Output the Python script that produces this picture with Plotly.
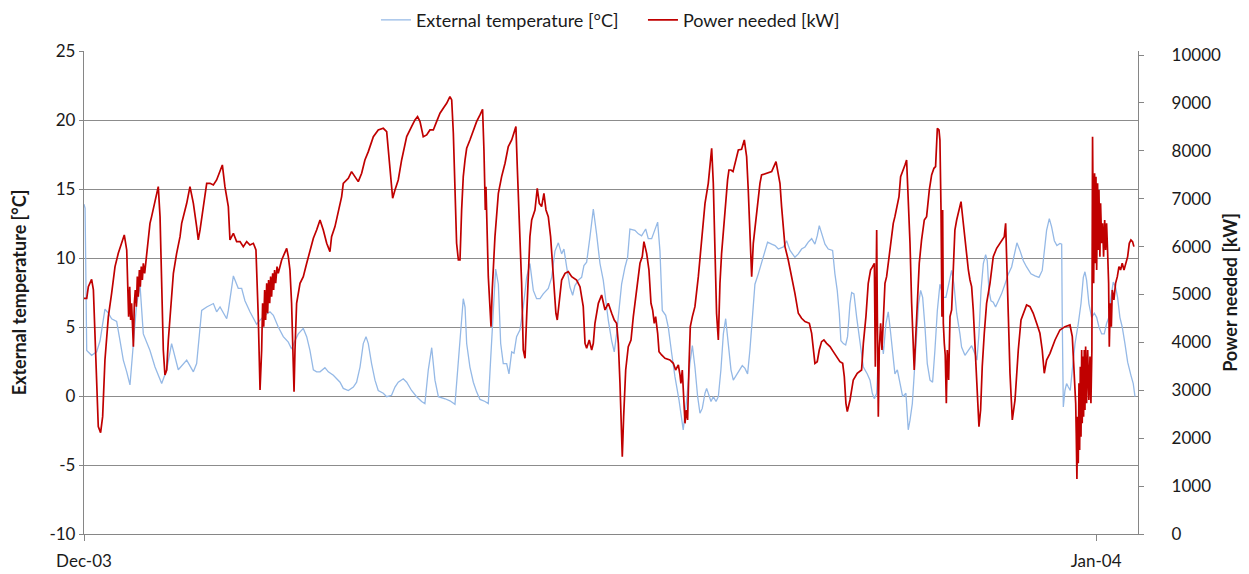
import pandas as pd
import plotly.graph_objects as go

START = pd.Timestamp("2003-12-01")

# External temperature [°C] : hours since 2003-12-01 00:00 and values
temp_hours = [
    0, 0.8, 2.0, 5.6, 9.3, 11.8, 15.4, 17.9, 20.3, 24.0, 26.5, 28.9, 31.4, 33.8, 36.3, 38.7, 41.2, 43.6,
    48.5, 52.2, 57.1, 60.8, 64.4, 69.3, 75.5, 80.4, 82.8, 86.5, 90.2, 95.1, 97.5, 100.0, 104.9, 106.1,
    109.8, 113.4, 115.9, 118.3, 122.0, 126.9, 129.4, 133.0, 136.7, 139.2, 142.8, 146.5, 150.2, 152.6,
    155.1, 157.5, 161.2, 163.7, 166.1, 168.6, 171.0, 173.5, 177.1, 179.6, 183.3, 188.2, 190.6, 194.3,
    198.0, 200.4, 202.9, 205.3, 207.3, 209.0, 211.4, 213.9, 216.3, 220.0, 222.5, 226.1, 228.6, 231.0,
    234.7, 237.2, 240.8, 244.5, 248.2, 250.6, 253.1, 255.6, 258.0, 260.5, 265.4, 269.0, 272.7, 275.2,
    277.6, 278.8, 280.1, 281.3, 283.7, 286.2, 288.6, 291.1, 294.8, 297.2, 298.9, 300.9, 302.6, 304.6,
    306.3, 308.2, 310.7, 312.4, 314.4, 316.1, 318.0, 320.5, 322.9, 325.4, 327.8, 330.3, 332.7, 335.2,
    337.6, 341.3, 343.8, 346.2, 348.7, 351.1, 352.8, 354.8, 357.2, 359.2, 360.9, 363.4, 365.8, 367.5,
    369.5, 371.9, 374.4, 376.8, 379.3, 381.7, 384.2, 385.4, 387.9, 389.8, 391.5, 393.3, 395.2, 397.7,
    399.6, 401.3, 405.0, 407.5, 409.9, 412.9, 414.8, 417.3, 419.7, 421.7, 423.4, 425.1, 427.6, 429.5,
    432.0, 434.4, 437.4, 440.5, 443.0, 445.4, 447.2, 449.1, 451.1, 452.8, 454.5, 456.5, 457.7, 459.4,
    460.9, 462.6, 464.6, 466.3, 468.2, 470.0, 471.7, 473.6, 475.6, 477.3, 479.7, 482.2, 483.9, 485.9,
    487.8, 489.5, 491.3, 493.2, 495.7, 498.1, 500.6, 502.5, 505.5, 508.0, 510.4, 514.1, 516.5, 519.0,
    522.6, 525.1, 527.5, 530.0, 532.4, 534.9, 537.3, 539.0, 540.5, 542.2, 544.7, 547.1, 550.3, 552.0,
    553.7, 555.2, 556.4, 558.2, 559.9, 561.3, 563.1, 564.3, 566.0, 568.0, 570.4, 572.9, 575.8, 577.8,
    579.5, 581.0, 582.7, 584.1, 585.8, 587.6, 589.5, 591.2, 592.5, 594.4, 596.1, 597.9, 599.8, 601.8,
    604.2, 605.9, 607.2, 608.9, 610.3, 612.1, 613.5, 615.0, 616.5, 618.2, 619.9, 621.9, 623.8, 625.5,
    627.3, 629.2, 631.7, 633.6, 635.6, 637.8, 639.5, 641.5, 643.9, 645.1, 647.6, 650.1, 652.5, 655.0,
    656.4, 657.9, 659.4, 661.1, 662.8, 664.0, 665.2, 666.7, 668.4, 670.1, 672.1, 674.5, 677.0, 679.5,
    681.9, 684.4, 685.8, 688.0, 690.5, 692.9, 696.1, 699.1, 702.0, 704.4, 705.9, 707.6, 709.6, 711.3,
    713.3, 715.2, 717.4, 718.7, 719.1, 719.9, 721.1, 722.3, 723.6, 725.0, 726.5, 728.5, 730.9, 732.9,
    734.6, 735.8, 737.0, 738.7, 740.7, 742.7, 744.4, 746.1, 748.1, 750.0, 751.7, 753.4, 754.9, 756.6,
    758.3, 759.8, 761.5, 763.2, 765.2, 767.2, 769.6, 771.3, 772.6,
]
temp_c = [
    13.9, 13.6, 3.3, 2.95, 3.2, 4.0, 6.3, 6.0, 5.6, 5.4, 4.0, 2.6, 1.75, 0.8, 3.8, 6.7, 8.0, 4.5,
    3.3, 2.1, 0.9, 1.9, 3.8, 1.9, 2.6, 1.75, 2.35, 6.2, 6.45, 6.7, 6.1, 6.45, 5.6, 6.2,
    8.7, 7.8, 7.8, 6.9, 6.1, 5.2, 5.5, 5.85, 6.1, 5.85, 5.0, 4.3, 3.9, 3.4,
    4.0, 4.5, 4.9, 4.3, 3.3, 1.9, 1.75, 1.75, 2.05, 1.75, 1.5, 1.0, 0.55, 0.4,
    0.65, 1.0, 2.1, 3.8, 4.3, 3.8, 2.35, 1.15, 0.4, 0.2, -0.05, 0.05, 0.65, 1.0,
    1.25, 1.0, 0.4, -0.05, -0.4, -0.55, 1.9, 3.5, 1.15, -0.05, -0.2, -0.35, -0.6, 2.8,
    6.0, 7.05, 6.45, 3.8, 2.1, 1.0, 0.3, -0.25, -0.4, -0.55, 2.6, 6.2, 9.2, 8.1,
    3.8, 2.35, 2.35, 1.6, 3.2, 3.1, 4.3, 4.8, 6.45, 8.6, 9.6, 7.65, 7.05, 7.05,
    7.4, 7.8, 8.6, 10.5, 11.1, 10.3, 10.65, 9.35, 7.9, 7.3, 8.0, 8.4, 8.6, 9.45,
    9.7, 11.5, 13.55, 11.75, 9.6, 8.4, 6.45, 5.5, 4.0, 3.2, 4.5, 6.2, 8.1, 9.35,
    10.05, 12.1, 12.0, 11.75, 11.6, 12.1, 11.4, 11.4, 12.0, 12.6, 10.5, 6.2, 5.85, 5.0,
    3.1, 1.4, -0.3, -2.45, -0.3, 2.35, 3.65, 2.1, -0.05, -1.25, -0.9, 0.2, 0.55, 0.05,
    -0.4, -0.05, -0.4, -0.05, 1.9, 4.5, 5.6, 3.8, 1.9, 1.15, 1.5, 1.9, 2.2, 2.0,
    1.6, 3.3, 6.0, 8.1, 8.85, 9.6, 10.5, 11.15, 11.0, 10.9, 10.65, 10.8, 11.25, 10.55,
    10.05, 10.3, 10.65, 10.8, 11.15, 11.4, 11.0, 11.6, 12.35, 11.85, 11.0, 10.65, 10.55, 8.85,
    7.65, 6.0, 4.0, 3.8, 3.7, 4.3, 6.7, 7.5, 7.4, 5.7, 3.8, 2.1, 1.6, 1.15,
    0.2, -0.2, 0.2, 3.3, 4.75, 3.05, 5.25, 6.1, 5.0, 3.3, 1.6, 1.9, 0.9, -0.05,
    0.2, -2.45, -1.75, -0.55, 1.6, 4.5, 6.7, 7.65, 7.15, 5.0, 2.35, 1.15, 1.0, 3.3,
    6.2, 8.1, 7.15, 7.15, 8.1, 9.1, 8.1, 6.0, 4.5, 3.55, 2.95, 3.3, 3.65, 3.05,
    2.6, 4.5, 7.65, 9.6, 10.25, 9.8, 7.65, 6.9, 6.8, 6.45, 6.9, 7.4, 8.1, 8.85,
    9.35, 10.55, 11.1, 10.55, 9.8, 9.35, 8.85, 8.7, 8.6, 9.1, 10.55, 12.0, 12.85, 12.25,
    11.25, 10.9, 11.05, 11.0, 5.7, -0.8, 0.4, 0.9, 0.65, 0.4, 1.9, 3.8, 5.25, 6.7,
    8.6, 9.0, 8.4, 6.7, 5.7, 6.0, 5.7, 5.0, 4.5, 4.5, 5.25, 5.7, 7.15, 8.25,
    7.9, 7.15, 5.7, 5.0, 3.8, 2.45, 1.5, 0.9, -0.05,
]

# Power needed [kW] : hours since 2003-12-01 00:00 and values
power_hours = [
    0, 2.0, 3.2, 5.6, 6.9, 8.1, 9.3, 10.5, 12.2, 13.7, 15.4, 17.9, 20.3, 22.8, 25.2, 27.7, 29.6, 31.4,
    32.1, 32.8, 33.6, 34.3, 35.0, 35.8, 36.3, 37.0, 37.7, 38.5, 39.2, 39.9, 40.7, 41.4, 42.1, 42.9,
    43.6, 44.6, 45.6, 47.3, 48.5, 49.7, 52.2, 54.6, 55.9, 57.1, 58.3, 59.5, 60.8, 62.0, 63.2, 65.7,
    68.1, 70.6, 71.8, 73.0, 75.5, 77.9, 80.4, 82.8, 84.0, 85.3, 87.7, 90.2, 92.6, 95.1, 97.5, 100.0,
    101.7, 103.6, 106.1, 107.3, 109.8, 112.2, 114.7, 117.1, 119.6, 122.0, 124.5, 126.4, 128.1, 129.4,
    130.6, 131.3, 132.1, 132.8, 133.5, 134.3, 135.0, 135.7, 136.5, 137.2, 137.9, 138.7, 139.4, 140.1,
    140.9, 141.9, 142.8, 145.3, 147.7, 149.0, 150.2, 151.4, 152.6, 153.4, 154.4, 155.1, 156.3, 158.8,
    161.2, 163.7, 166.1, 168.6, 171.0, 173.5, 175.9, 178.4, 180.8, 182.0, 184.5, 186.9, 189.4, 190.6,
    194.3, 196.7, 199.2, 201.6, 204.1, 206.5, 209.0, 212.7, 216.3, 220.0, 222.5, 223.7, 224.9, 226.1,
    226.9, 228.6, 231.0, 233.5, 237.2, 240.8, 243.3, 245.2, 247.0, 249.4, 251.9, 254.3, 256.8, 259.2,
    261.7, 264.1, 266.6, 269.0, 270.3, 271.5, 272.7, 273.9, 275.2, 276.4, 277.6, 278.8, 280.1, 281.3,
    283.7, 286.2, 288.6, 291.1, 293.0, 294.0, 294.5, 295.0, 295.5, 296.0, 296.5, 297.2, 298.4, 299.2,
    300.1, 302.1, 304.6, 307.0, 309.5, 311.9, 314.4, 317.5, 318.5, 320.0, 321.7, 322.9, 324.2, 325.4,
    326.6, 327.8, 329.1, 331.5, 333.2, 334.7, 336.4, 338.1, 339.6, 341.3, 343.0, 344.2, 345.5, 346.9,
    347.9, 349.1, 351.1, 353.6, 356.0, 358.5, 362.1, 364.6, 367.0, 368.3, 369.5, 371.4, 373.2, 374.4,
    375.6, 378.1, 380.5, 383.0, 385.4, 387.9, 389.8, 391.5, 392.8, 394.0, 395.2, 395.7, 396.7, 398.2,
    400.1, 402.1, 403.8, 406.2, 408.7, 410.4, 411.6, 413.6, 415.3, 416.8, 418.0, 419.2, 420.2, 421.7,
    422.7, 424.6, 427.1, 430.7, 433.2, 434.9, 436.9, 438.1, 438.8, 439.8, 441.0, 441.8, 442.7, 443.7,
    444.7, 445.7, 447.2, 449.1, 451.6, 454.0, 456.5, 458.9, 461.4, 462.6, 463.8, 465.0, 466.3, 467.5,
    468.7, 471.2, 473.1, 474.1, 475.6, 477.1, 479.0, 481.0, 483.4, 485.4, 486.4, 487.1, 488.3, 489.5,
    490.8, 492.0, 494.4, 496.9, 498.1, 500.6, 503.0, 505.5, 508.7, 510.4, 511.6, 512.8, 514.1, 515.3,
    517.7, 520.2, 522.6, 525.1, 527.5, 530.0, 533.2, 534.9, 536.1, 537.3, 539.0, 540.5, 542.2, 543.9,
    545.9, 548.4, 550.8, 553.3, 555.7, 557.7, 558.9, 560.1, 561.1, 563.1, 565.5, 568.4, 571.6, 572.9,
    574.8, 576.5, 578.2, 579.7, 581.0, 581.7, 582.2, 582.7, 583.2, 583.9, 584.6, 585.6, 586.6, 587.6,
    588.8, 590.0, 591.2, 592.5, 593.7, 594.9, 596.1, 597.8, 599.1, 600.3, 602.3, 603.5, 604.7, 605.9,
    607.2, 608.4, 609.6, 610.3, 611.3, 612.6, 614.0, 615.7, 617.7, 619.4, 621.4, 623.1, 624.8, 626.0,
    627.3, 628.5, 629.2, 630.0, 630.7, 631.2, 631.7, 632.4, 633.1, 633.9, 634.6, 635.6, 636.6, 637.8,
    639.0, 640.2, 641.5, 643.0, 644.7, 645.6, 646.6, 647.6, 648.8, 650.1, 651.3, 652.5, 653.7, 655.0,
    656.2, 657.9, 659.1, 660.3, 661.8, 663.5, 666.0, 668.4, 670.9, 673.3, 676.5, 677.5, 678.2, 679.5,
    680.7, 682.4, 684.4, 686.8, 688.8, 690.5, 692.9, 695.4, 697.8, 700.3, 702.7, 704.4, 705.9, 707.6,
    710.1, 713.8, 717.4, 721.1, 724.8, 726.5, 728.0, 729.0, 729.4, 729.9, 730.4, 730.9, 731.4, 731.9,
    732.4, 732.9, 733.4, 733.8, 734.3, 734.8, 735.3, 735.8, 736.3, 737.0, 737.8, 738.7, 739.5, 740.2,
    740.9, 741.4, 742.2, 742.9, 743.4, 743.9, 744.4, 745.1, 745.6, 746.1, 746.8, 747.3, 748.1, 748.8,
    749.5, 750.3, 751.0, 751.7, 752.5, 753.2, 753.7, 754.4, 755.2, 755.9, 757.1, 758.3, 759.6, 760.8,
    762.0, 763.2, 764.5, 765.7, 767.2, 768.4, 769.6, 770.8, 771.8,
]
power_kw = [
    4921, 4921, 5164, 5317, 5095, 4190, 3076, 2241, 2116, 2450, 3633, 4538, 5025, 5582, 5860, 6069, 6243, 5930,
    5234, 4538, 5164, 4468, 4816, 4329, 3912, 4816, 5095, 4747, 5373, 4956, 5512, 5164, 5582, 5303,
    5652, 5443, 5721, 6069, 6487, 6626, 6974, 7252, 6626, 5234, 3842, 3320, 3424, 4051, 4538, 5443,
    5860, 6208, 6487, 6626, 6904, 7252, 6904, 6417, 6139, 6347, 6835, 7322, 7322, 7287, 7392, 7600,
    7705, 7252, 6835, 6139, 6278, 6104, 6104, 6000, 6104, 6034, 6069, 5930, 4538, 3007,
    3842, 4816, 4329, 5095, 4468, 5234, 4608, 5303, 4816, 5373, 4956, 5443, 5095, 5512,
    5234, 5582, 5443, 5721, 5860, 5965, 5791, 5512, 4816, 3842, 2972, 3842, 4816, 5234,
    5373, 5652, 5930, 6174, 6347, 6556, 6347, 6069, 5895, 6208, 6417, 6696, 7044, 7322,
    7426, 7566, 7461, 7357, 7531, 7809, 7983, 8296, 8436, 8470, 8401, 8018, 7600, 7183,
    7009, 7183, 7392, 7809, 8296, 8505, 8644, 8714, 8610, 8296, 8331, 8436, 8436, 8610,
    8784, 8888, 8992, 9132, 9062, 8366, 6974, 6069, 5721, 5721, 6765, 7461, 7809, 8053,
    8227, 8436, 8610, 8749, 8867, 8018, 7183, 6765, 7252, 6626, 5930, 5373, 4747, 4329,
    5095, 6208, 7113, 7461, 7740, 8088, 8227, 8505, 7670, 6626, 5234, 3842, 3668, 4538,
    5582, 6208, 6556, 6765, 7218, 6904, 6835, 7113, 6765, 6626, 6208, 5652, 5095, 4608,
    4468, 4816, 5303, 5443, 5478, 5373, 5303, 5164, 4747, 3981, 3877, 4051, 3842, 3981,
    4399, 4816, 4990, 4677, 4816, 4608, 4468, 4399, 3981, 3146, 2102, 1615, 2450, 3424,
    3912, 4051, 4538, 5095, 5652, 5791, 6104, 5860, 5512, 4816, 4677, 4399, 4538, 4190,
    3807, 3738, 3668, 3633, 3563, 3424, 3529, 3320, 3146, 3424, 2589, 2311, 2589, 2380,
    3494, 4329, 4538, 4747, 5373, 6208, 6904, 7322, 8053, 7322, 6208, 4608, 4051, 5234,
    5860, 6765, 7392, 7600, 7600, 7566, 7809, 8018, 8032, 8227, 8018, 7879, 7183, 6208,
    5373, 6069, 6696, 7322, 7496, 7517, 7545, 7566, 7774, 7461, 7322, 6835, 6347, 6000,
    5721, 5373, 5025, 4608, 4503, 4434, 4399, 4190, 3842, 3563, 3598, 3842, 4016, 4051,
    3981, 3912, 3807, 3703, 3598, 3563, 3285, 2728, 2554, 2798, 3216, 3355, 3424, 3981,
    4538, 5234, 5512, 5582, 5652, 3494, 5234, 6347, 4538, 2450, 3842, 4399, 3842, 4538,
    5234, 5373, 5652, 6000, 6208, 6487, 6626, 6835, 7044, 7461, 7600, 7705, 7809, 7044,
    6069, 4816, 3842, 3424, 4051, 4886, 5652, 6139, 6556, 6626, 7183, 7496, 7635, 7670,
    8470, 8436, 8227, 6765, 4538, 6765, 4399, 3981, 3738, 2728, 3842, 3216, 4538, 4677,
    5582, 6347, 6556, 6765, 6939, 6696, 6417, 6069, 5791, 5512, 5303, 5164, 4677, 3981,
    3285, 2241, 2589, 3494, 4190, 4816, 5234, 5791, 5965, 6069, 6208, 6487, 5652, 4538,
    3355, 2380, 2798, 3842, 4468, 4608, 4782, 4747, 4608, 4399, 4190, 3842, 3355, 3633,
    3772, 4051, 4260, 4329, 4364, 4120, 3424, 2728, 2102, 1150, 2450, 1476, 3146, 1754,
    3494, 2032, 3842, 2311, 3703, 2450, 3842, 2589, 3912, 2728, 3842, 2798, 3703, 2728,
    3842, 8296, 5234, 7531, 5652, 7461, 5512, 7322, 5930, 7183, 5791, 6904, 6069, 6487,
    5791, 6556, 5930, 6487, 5860, 5234, 3912, 4816, 4329, 5095, 4886, 5234, 5373, 5582,
    5512, 5652, 5512, 5652, 5791, 6069, 6139, 6104, 6000,
]

temp_ticks = [-10, -5, 0, 5, 10, 15, 20, 25]
temp_tick_labels = ["-10", "-5", "0", "5", "10", "15", "20", "25"]
power_ticks = [0, 1000, 2000, 3000, 4000, 5000, 6000, 7000, 8000, 9000, 10000]
power_tick_labels = [str(v) for v in power_ticks]
month_ticks = ["2003-12-01", "2004-01-01"]
month_labels = ["Dec-03", "Jan-04"]

t_temp = START + pd.to_timedelta(temp_hours, unit="h")
t_power = START + pd.to_timedelta(power_hours, unit="h")

FONT = "Lato, 'Liberation Sans', Arial, sans-serif"
TXT = "#1a1a1a"
AXIS = "#868686"

fig = go.Figure()
fig.add_trace(go.Scatter(
    x=t_temp, y=temp_c, mode="lines", name="External temperature [°C]",
    line=dict(color="#95B9E6", width=1.3), yaxis="y",
))
fig.add_trace(go.Scatter(
    x=t_power, y=power_kw, mode="lines", name="Power needed [kW]",
    line=dict(color="#C00000", width=1.7), yaxis="y2",
))

# the page body places the figure 8 px from the top-left corner
fig.update_layout(
    width=1241, height=566,
    margin=dict(l=76, r=111, t=43, b=40, autoexpand=False),
    paper_bgcolor="white", plot_bgcolor="white",
    font=dict(family=FONT, size=16, color=TXT),
    showlegend=True,
    legend=dict(
        orientation="h", x=0.277, xanchor="left", y=1.064, yanchor="middle",
        entrywidth=222, entrywidthmode="pixels",
        font=dict(family=FONT, size=18, color=TXT), bgcolor="rgba(0,0,0,0)",
    ),
    xaxis=dict(
        type="date", automargin=False,
        range=[START, START + pd.Timedelta(hours=774.8)],
        tickvals=month_ticks, ticktext=month_labels,
        ticks="outside", ticklen=6, tickcolor=AXIS,
        showline=True, linecolor=AXIS, linewidth=1.3,
        showgrid=False, zeroline=False,
        ticklabelstandoff=5,
        tickfont=dict(family=FONT, size=17, color=TXT),
    ),
    yaxis=dict(
        automargin=False,
        range=[-10, 25], tickvals=temp_ticks, ticktext=temp_tick_labels,
        ticks="outside", ticklen=4, tickcolor=AXIS,
        showline=True, linecolor=AXIS, linewidth=1.3,
        showgrid=True, gridcolor="#8c8c8c", gridwidth=1.2,
        zeroline=False,
        tickfont=dict(family=FONT, size=17, color=TXT),
        title=dict(text="External temperature [°C]", standoff=20,
                   font=dict(family=FONT, size=18, color=TXT, weight="bold")),
    ),
    yaxis2=dict(
        automargin=False,
        overlaying="y", side="right",
        range=[0, 10084], tickvals=power_ticks, ticktext=power_tick_labels,
        ticks="outside", ticklen=5, tickcolor=AXIS,
        showline=True, linecolor=AXIS, linewidth=1.3,
        showgrid=False, zeroline=False,
        tickfont=dict(family=FONT, size=17, color=TXT),
        ticklabelstandoff=24,
        title=dict(text="Power needed [kW]", standoff=4,
                   font=dict(family=FONT, size=18, color=TXT, weight="bold")),
    ),
)

fig.write_html("out.html")
